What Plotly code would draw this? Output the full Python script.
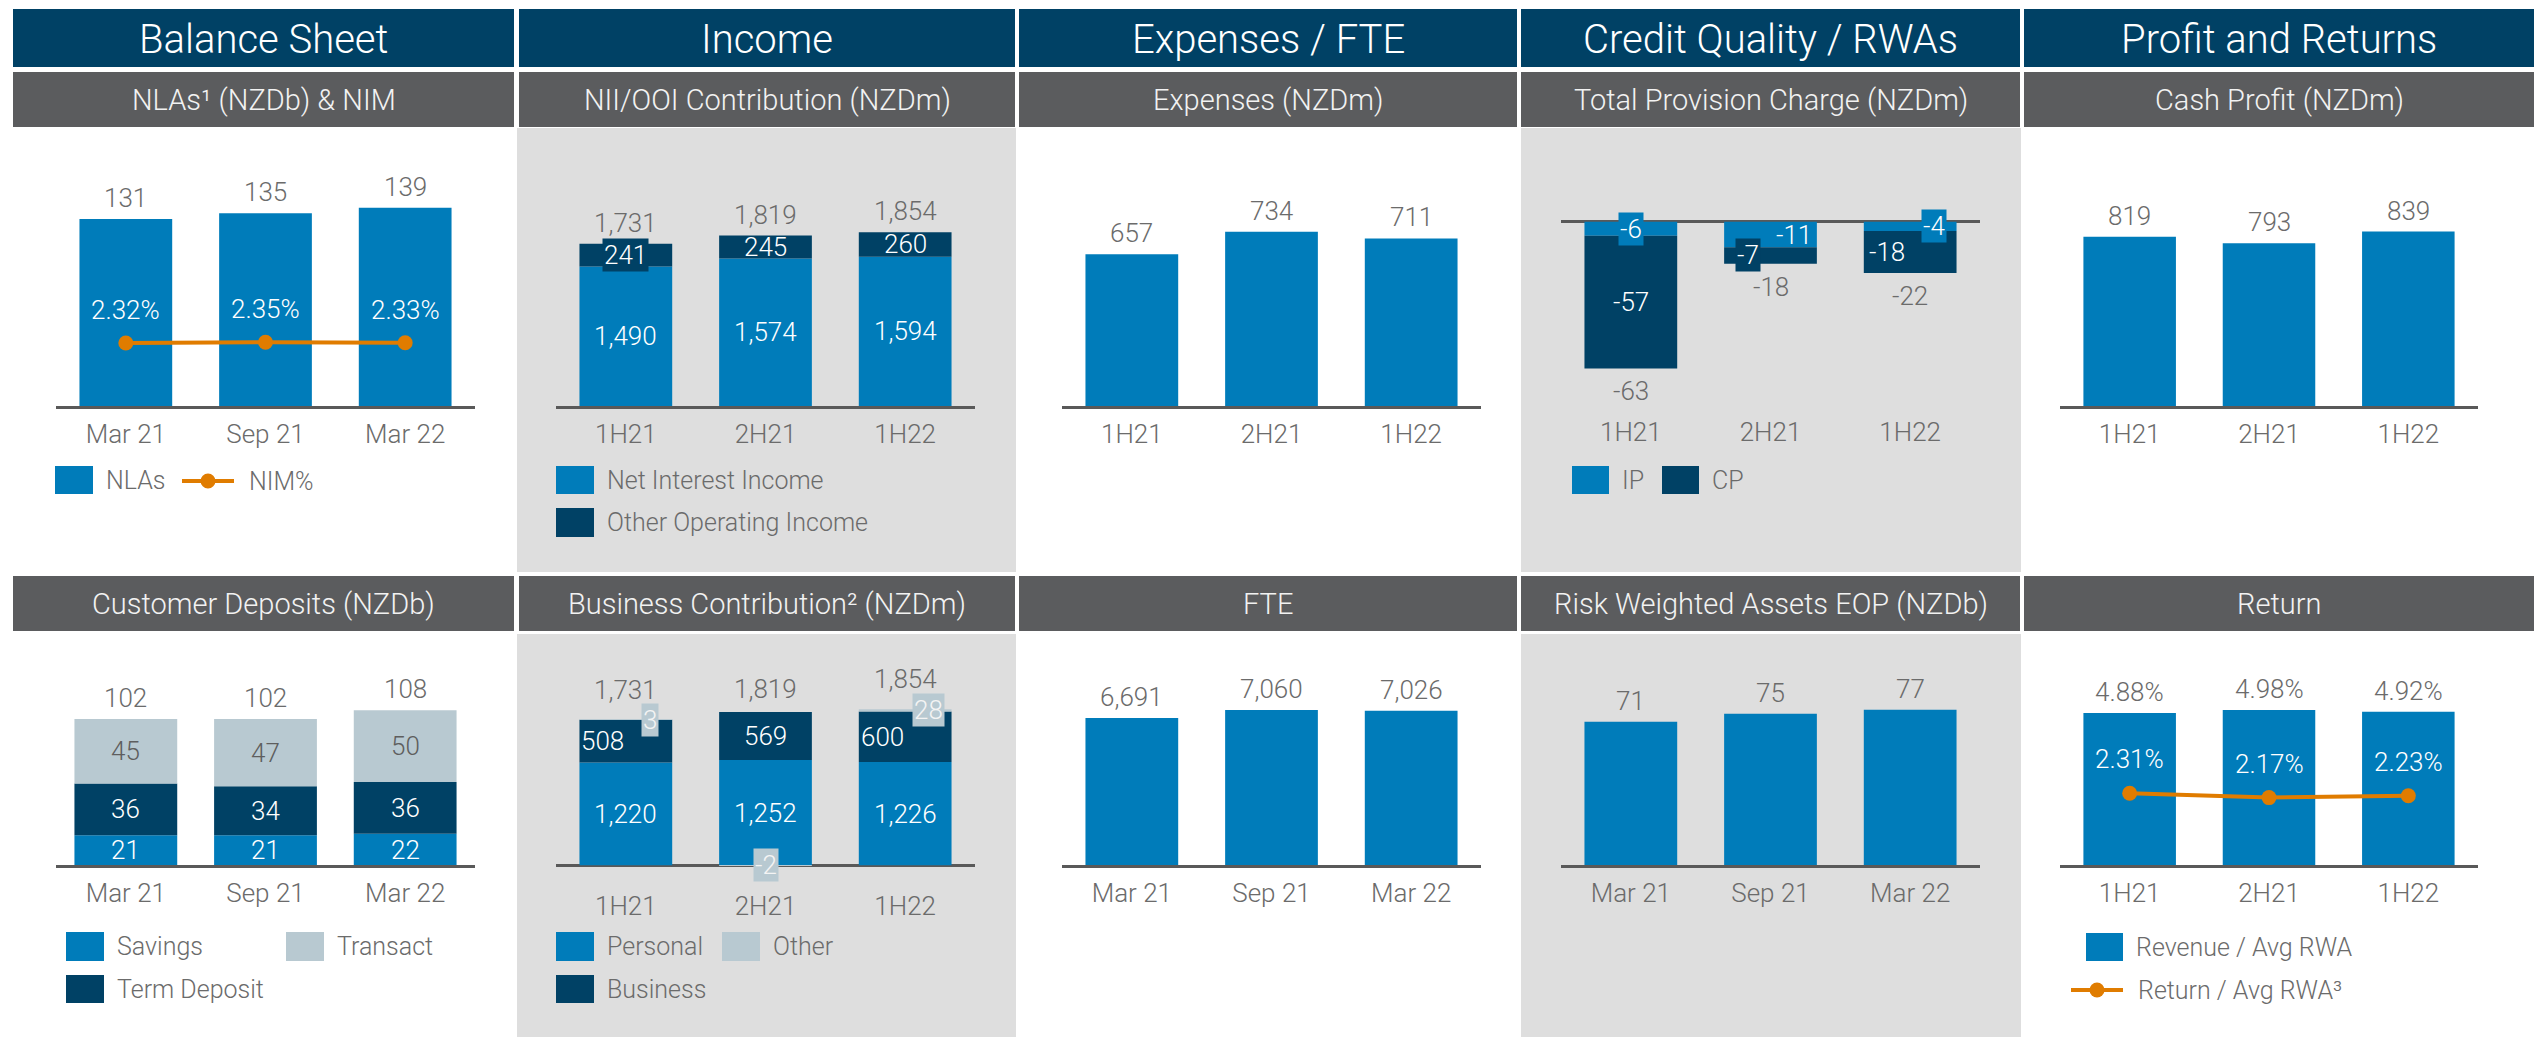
import plotly.graph_objects as go

W, H = 2534, 1037

# ---------------- data ----------------
periods_bs = ["Mar 21", "Sep 21", "Mar 22"]
periods_h = ["1H21", "2H21", "1H22"]

nla = [131, 135, 139]
nim = [2.32, 2.35, 2.33]

nii = [1490, 1574, 1594]
ooi = [241, 245, 260]

expenses = [657, 734, 711]

prov_ip = [-6, -11, -4]
prov_cp = [-57, -7, -18]

cash_profit = [819, 793, 839]

dep_savings = [21, 21, 22]
dep_term = [36, 34, 36]
dep_transact = [45, 47, 50]

bc_personal = [1220, 1252, 1226]
bc_business = [508, 569, 600]
bc_other = [3, -2, 28]

fte = [6691, 7060, 7026]

rwa = [71, 75, 77]

rev_rwa = [4.88, 4.98, 4.92]
ret_rwa = [2.31, 2.17, 2.23]

# ---------------- styling ----------------
BLUE = "#007cba"
NAVY = "#004165"
LIGHT = "#b8c9d1"
ORANGE = "#e07c00"
HEAD = "#004165"
SUB = "#5b5c5e"
PANEL = "#dedede"
TXT = "#6b6b6b"
AXIS = "#595959"
FONT = "Roboto"
LBL = 26
LEG = 25


def px_x(x):
    return x / W


def px_y(y):
    return 1 - y / H


# panel layout: x pixel span, y pixel span (top, bottom), y range
panels = {
    1: dict(x=(56, 475), y=(140, 406), yr=[0, 186.4]),
    2: dict(x=(556, 975), y=(140, 406), yr=[0, 2838.8]),
    3: dict(x=(1062, 1481), y=(140, 406), yr=[140, 1046.3]),
    4: dict(x=(1561, 1980), y=(140, 406), yr=[-79.1, 35.06], zero=True),
    5: dict(x=(2060, 2478), y=(140, 406), yr=[147, 1202.6]),
    6: dict(x=(56, 475), y=(640, 865.3), yr=[0, 157.0]),
    7: dict(x=(556, 975), y=(640, 880), yr=[-174.6, 2675.8], zero=True),
    8: dict(x=(1062, 1481), y=(640, 865.3), yr=[0, 10241]),
    9: dict(x=(1561, 1980), y=(640, 865.3), yr=[0, 111.5]),
    10: dict(x=(2060, 2478), y=(640, 865.3), yr=[0, 7.221]),
}

layout = dict(
    width=W, height=H, margin=dict(l=0, r=0, t=0, b=0),
    paper_bgcolor="white", plot_bgcolor="rgba(0,0,0,0)",
    showlegend=False, barmode="relative",
    font=dict(family=FONT, color=TXT, size=LBL, weight=300),
)

for n, p in panels.items():
    zero = p.get("zero", False)
    layout[f"xaxis{n}"] = dict(
        domain=[px_x(p["x"][0]), px_x(p["x"][1])], range=[-0.5, 2.5],
        anchor=f"y{n}", showgrid=False, zeroline=False,
        showline=not zero, linecolor=AXIS, linewidth=2.5,
        ticks="outside", ticklen=3, tickcolor="rgba(0,0,0,0)",
        tickfont=dict(family=FONT, size=LBL, color=TXT, weight=300),
        fixedrange=True,
    )
    layout[f"yaxis{n}"] = dict(
        domain=[px_y(p["y"][1]), px_y(p["y"][0])], range=p["yr"],
        anchor=f"x{n}", showgrid=False, showticklabels=False, showline=False,
        zeroline=zero, zerolinecolor=AXIS, zerolinewidth=2.5, fixedrange=True,
    )

# secondary axis for the NIM line
layout["yaxis11"] = dict(overlaying="y1", anchor="x1", side="right", range=[0, 9.80],
                         showgrid=False, showticklabels=False, showline=False, zeroline=False)

fig = go.Figure()
ann = []
shapes = []


def bar(x, y, n, color, width=0.664):
    fig.add_trace(go.Bar(x=x, y=y, xaxis=f"x{n}", yaxis=f"y{n}", marker=dict(color=color, line=dict(width=0)),
                         width=width, hoverinfo="skip"))


def line(x, y, yaxis, n):
    fig.add_trace(go.Scatter(x=x, y=y, xaxis=f"x{n}", yaxis=yaxis, mode="lines+markers",
                             line=dict(color=ORANGE, width=4), marker=dict(size=15, color=ORANGE),
                             hoverinfo="skip"))


def label(text, n, x, y, color=TXT, yshift=0, xshift=0, bg=None, yref=None):
    d = dict(text=text, xref=f"x{n}", yref=yref or f"y{n}", x=x, y=y, showarrow=False,
             font=dict(family=FONT, size=LBL, color=color, weight=300),
             xanchor="center", yanchor="middle", yshift=yshift, xshift=xshift)
    if bg:
        d.update(bgcolor=bg, borderpad=1)
    ann.append(d)


def ptext(text, x, y, size, color, anchor="center", weight=300):
    ann.append(dict(text=text, xref="paper", yref="paper", x=px_x(x), y=px_y(y), showarrow=False,
                    xanchor=anchor, yanchor="middle",
                    font=dict(family=FONT, size=size, color=color, weight=weight)))


def rect(x0, y0, x1, y1, color):
    shapes.append(dict(type="rect", xref="paper", yref="paper", x0=px_x(x0), x1=px_x(x1),
                       y0=px_y(y1), y1=px_y(y0), fillcolor=color, line=dict(width=0), layer="below"))


def swatch(x0, y0, x1, y1, color, text):
    rect(x0, y0, x1, y1, color)
    ptext(text, x1 + 11, (y0 + y1) / 2, LEG, TXT, anchor="left")


def line_swatch(x0, x1, y, text):
    shapes.append(dict(type="line", xref="paper", yref="paper", x0=px_x(x0), x1=px_x(x1),
                       y0=px_y(y), y1=px_y(y), line=dict(color=ORANGE, width=4), layer="above"))
    xc = (x0 + x1) / 2
    shapes.append(dict(type="circle", xref="paper", yref="paper", x0=px_x(xc - 7.5), x1=px_x(xc + 7.5),
                       y0=px_y(y + 7.5), y1=px_y(y - 7.5), fillcolor=ORANGE, line=dict(width=0),
                       layer="above"))
    ptext(text, x1 + 13, y, LEG, TXT, anchor="left")


# ---------------- background blocks ----------------
cols = [(13, 514), (519, 1015), (1019, 1517), (1521, 2020), (2024, 2534)]
rect(517, 128, 1016, 572, PANEL)
rect(1521, 128, 2021, 572, PANEL)
rect(517, 634, 1016, 1037, PANEL)
rect(1521, 634, 2021, 1037, PANEL)

heads = ["Balance Sheet", "Income", "Expenses / FTE", "Credit Quality / RWAs", "Profit and Returns"]
subs_top = ["NLAs¹ (NZDb) & NIM", "NII/OOI Contribution (NZDm)", "Expenses (NZDm)",
            "Total Provision Charge (NZDm)", "Cash Profit (NZDm)"]
subs_bottom = ["Customer Deposits (NZDb)", "Business Contribution² (NZDm)", "FTE",
               "Risk Weighted Assets EOP (NZDb)", "Return"]
for (x0, x1), h, s1, s2 in zip(cols, heads, subs_top, subs_bottom):
    rect(x0, 9, x1, 67, HEAD)
    rect(x0, 72, x1, 127, SUB)
    rect(x0, 576, x1, 631, SUB)
    xc = (x0 + x1) / 2
    ptext(h, xc, 39, 40, "white")
    ptext(s1, xc, 100, 29, "#f2f2f2")
    ptext(s2, xc, 604, 29, "#f2f2f2")

# ---------------- 1: NLAs & NIM ----------------
bar(periods_bs, nla, 1, BLUE)
line(periods_bs, nim, "y11", 1)
for p, v, m in zip(periods_bs, nla, nim):
    label(f"{v}", 1, p, v, yshift=21)
    label(f"{m:.2f}%", 1, p, m, color="white", yshift=33, yref="y11")
swatch(55, 466, 93, 494, BLUE, "NLAs")
line_swatch(182, 234, 481, "NIM%")

# ---------------- 2: NII / OOI ----------------
bar(periods_h, nii, 2, BLUE)
bar(periods_h, ooi, 2, NAVY)
ooi_tag = [True, False, False]
for p, a, b, tag in zip(periods_h, nii, ooi, ooi_tag):
    label(f"{a:,}", 2, p, a / 2, color="white")
    label(f"{b:,}", 2, p, a + b / 2, color="white", bg=NAVY if tag else None)
    label(f"{a + b:,}", 2, p, a + b, yshift=21)
swatch(556, 466, 594, 494, BLUE, "Net Interest Income")
swatch(556, 508, 594, 537, NAVY, "Other Operating Income")

# ---------------- 3: Expenses ----------------
bar(periods_h, expenses, 3, BLUE)
for p, v in zip(periods_h, expenses):
    label(f"{v:,}", 3, p, v, yshift=21)

# ---------------- 4: Provision charge ----------------
bar(periods_h, prov_ip, 4, BLUE)
bar(periods_h, prov_cp, 4, NAVY)
ip_dx, ip_tag = [0, 23, 24], [True, False, True]
cp_dx, cp_tag = [0, -23, -23], [False, True, False]
for i, p in enumerate(periods_h):
    a, b = prov_ip[i], prov_cp[i]
    label(f"{a}", 4, p, a / 2, color="white", xshift=ip_dx[i], bg=BLUE if ip_tag[i] else None)
    label(f"{b}", 4, p, a + b / 2, color="white", xshift=cp_dx[i], bg=NAVY if cp_tag[i] else None)
    label(f"{a + b}", 4, p, a + b, yshift=-23)
swatch(1572, 466, 1609, 494, BLUE, "IP")
swatch(1662, 466, 1699, 494, NAVY, "CP")

# ---------------- 5: Cash profit ----------------
bar(periods_h, cash_profit, 5, BLUE)
for p, v in zip(periods_h, cash_profit):
    label(f"{v:,}", 5, p, v, yshift=21)

# ---------------- 6: Customer deposits ----------------
bar(periods_bs, dep_savings, 6, BLUE, width=0.736)
bar(periods_bs, dep_term, 6, NAVY, width=0.736)
bar(periods_bs, dep_transact, 6, LIGHT, width=0.736)
for p, s, t, r in zip(periods_bs, dep_savings, dep_term, dep_transact):
    label(f"{s}", 6, p, s / 2, color="white")
    label(f"{t}", 6, p, s + t / 2, color="white")
    label(f"{r}", 6, p, s + t + r / 2, color="#5e5e5e")
    label(f"{s + t + r}", 6, p, s + t + r, yshift=21)
swatch(66, 932, 104, 961, BLUE, "Savings")
swatch(286, 932, 324, 961, LIGHT, "Transact")
swatch(66, 975, 104, 1003, NAVY, "Term Deposit")

# ---------------- 7: Business contribution ----------------
bar(periods_h, bc_personal, 7, BLUE)
bar(periods_h, bc_business, 7, NAVY)
bar(periods_h, bc_other, 7, LIGHT)
bus_dx = [-23, 0, -23]
oth_dx = [24, 0, 23]
for i, p in enumerate(periods_h):
    a, b, c = bc_personal[i], bc_business[i], bc_other[i]
    label(f"{a:,}", 7, p, a / 2, color="white")
    label(f"{b:,}", 7, p, a + b / 2, color="white", xshift=bus_dx[i])
    oy = a + b + c / 2 if c > 0 else c / 2
    label(f"{c}", 7, p, oy, color="#f4f4f4", xshift=oth_dx[i], bg=LIGHT)
    top = a + b + max(c, 0)
    label(f"{a + b + c:,}", 7, p, top, yshift=30 if c > 0 else 23)
swatch(556, 932, 594, 961, BLUE, "Personal")
swatch(722, 932, 760, 961, LIGHT, "Other")
swatch(556, 975, 594, 1003, NAVY, "Business")

# ---------------- 8: FTE ----------------
bar(periods_bs, fte, 8, BLUE)
for p, v in zip(periods_bs, fte):
    label(f"{v:,}", 8, p, v, yshift=21)

# ---------------- 9: RWA ----------------
bar(periods_bs, rwa, 9, BLUE)
for p, v in zip(periods_bs, rwa):
    label(f"{v}", 9, p, v, yshift=21)

# ---------------- 10: Return ----------------
bar(periods_h, rev_rwa, 10, BLUE)
line(periods_h, ret_rwa, "y10", 10)
for p, v, r in zip(periods_h, rev_rwa, ret_rwa):
    label(f"{v:.2f}%", 10, p, v, yshift=21)
    label(f"{r:.2f}%", 10, p, r, color="white", yshift=34)
swatch(2086, 933, 2123, 961, BLUE, "Revenue / Avg RWA")
line_swatch(2071, 2123, 990, "Return / Avg RWA³")

layout["annotations"] = ann
layout["shapes"] = shapes
fig.update_layout(**layout)
fig.write_html("out.html", config={"displayModeBar": False})
